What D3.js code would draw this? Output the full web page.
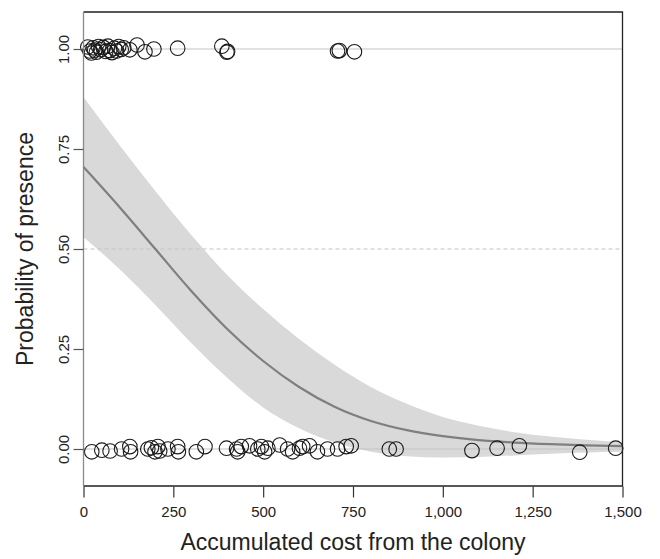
<!DOCTYPE html>
<html>
<head>
<meta charset="utf-8">
<script src="https://cdn.jsdelivr.net/npm/d3@7"></script>
<style>
  html, body { margin: 0; padding: 0; background: #fff; }
  svg { display: block; font-family: 'Liberation Sans', Arial, sans-serif; }
</style>
</head>
<body>
<div id="chart"></div>
<script>
// fitted curve and band
const gridX = [0, 100, 200, 300, 400, 500, 600, 700, 800, 900, 1000, 1100, 1200, 1300, 1400, 1500];
const fitP  = [0.705, 0.605, 0.5, 0.395, 0.3, 0.22, 0.155, 0.105, 0.07, 0.047, 0.032, 0.022, 0.016, 0.012, 0.009, 0.007];
const lowP  = [0.53, 0.45, 0.36, 0.265, 0.178, 0.104, 0.052, 0.016, -0.007, -0.018, -0.021, -0.02, -0.016, -0.012, -0.009, -0.007];
const uppP  = [0.88, 0.76, 0.645, 0.535, 0.435, 0.35, 0.275, 0.21, 0.155, 0.113, 0.08, 0.058, 0.042, 0.031, 0.023, 0.017];

// presences (jittered around 1)
const presX = [12, 18, 22, 27, 31, 36, 42, 48, 55, 62, 68, 73, 79, 86, 92, 98, 105, 112, 129, 149, 171, 196, 262, 385, 399, 401, 707, 712, 754];
const presY = [1.005, 0.995, 0.99, 1.003, 0.997, 0.992, 1.006, 0.998, 1.004, 0.994, 1.007, 0.996, 0.991, 1.002, 0.995, 1.006, 0.999, 1.003, 0.998, 1.01, 0.993, 1.0, 1.002, 1.007, 0.992, 0.994, 0.995, 0.996, 0.993];

// absences (jittered around 0)
const absX = [23, 51, 74, 106, 129, 131, 179, 189, 199, 207, 212, 235, 262, 264, 314, 338, 398, 426, 429, 439, 462, 485, 495, 504, 513, 546, 568, 582, 601, 610, 629, 651, 679, 707, 731, 745, 851, 870, 1081, 1151, 1213, 1381, 1481];
const absY = [-0.007, -0.003, -0.005, 0.0, 0.006, -0.007, 0.0, 0.003, -0.007, 0.006, -0.005, 0.0, 0.006, -0.007, -0.007, 0.006, 0.002, 0.0, -0.007, 0.006, 0.008, 0.0, 0.006, -0.007, 0.002, 0.01, 0.0, -0.007, 0.002, 0.006, 0.008, -0.007, 0.0, 0.0, 0.006, 0.008, 0.0, 0.0, -0.004, 0.002, 0.008, -0.008, 0.002];

const xTicks = [0, 250, 500, 750, 1000, 1250, 1500];
const yTicks = [0, 0.25, 0.5, 0.75, 1];

const W = 660, H = 559;
const x = d3.scaleLinear().domain([0, 1500]).range([83.5, 622.5]);
const y = d3.scaleLinear().domain([-0.0925, 1.0925]).range([486, 12]);
const FONT = "'Liberation Sans', Arial, sans-serif";

const svg = d3.select('#chart').append('svg')
  .attr('width', W).attr('height', H);

// confidence band
const band = gridX.map((v, i) => ({ x: v, lo: lowP[i], hi: uppP[i], p: fitP[i] }));
svg.append('path')
  .datum(band)
  .attr('fill', '#d9d9d9')
  .attr('d', d3.area().curve(d3.curveMonotoneX)
    .x(d => x(d.x)).y0(d => y(d.lo)).y1(d => y(d.hi)));

// reference lines
[[1, null], [0, null], [0.5, '4,3']].forEach(([v, dash]) => {
  svg.append('line')
    .attr('x1', x(0)).attr('x2', x(1500))
    .attr('y1', y(v)).attr('y2', y(v))
    .attr('stroke', '#c4c4c4').attr('stroke-width', 1.2)
    .attr('stroke-dasharray', dash);
});

// fitted line
svg.append('path')
  .datum(band)
  .attr('fill', 'none')
  .attr('stroke', '#7f7f7f')
  .attr('stroke-width', 2.2)
  .attr('d', d3.line().curve(d3.curveMonotoneX).x(d => x(d.x)).y(d => y(d.p)));

// points
const pts = presX.map((v, i) => ({ x: v, y: presY[i] }))
  .concat(absX.map((v, i) => ({ x: v, y: absY[i] })));
svg.append('g').selectAll('circle')
  .data(pts).enter()
  .append('circle')
  .attr('cx', d => x(d.x)).attr('cy', d => y(d.y))
  .attr('r', 7.3)
  .attr('fill', 'none')
  .attr('stroke', '#1a1a1a')
  .attr('stroke-width', 1.1);

// box
svg.append('path')
  .attr('d', `M${x(0)},${y.range()[1]}H${x(1500)}V${y.range()[0]}H${x(0)}`)
  .attr('fill', 'none').attr('stroke', '#222').attr('stroke-width', 1.3);
svg.append('line')
  .attr('x1', x(0)).attr('x2', x(0)).attr('y1', y.range()[1]).attr('y2', y.range()[0])
  .attr('stroke', '#8a8a8a').attr('stroke-width', 1.3);

// x axis
const xa = svg.append('g')
  .attr('transform', `translate(0,${y.range()[0] + 0.5})`)
  .call(d3.axisBottom(x).tickValues(xTicks).tickFormat(d3.format(',')).tickSize(11).tickPadding(9));
xa.select('.domain').remove();
xa.selectAll('.tick line').attr('stroke', '#333').attr('stroke-width', 1.2);
xa.selectAll('.tick text').attr('font-size', 15).attr('fill', '#222').attr('font-family', FONT);

// y axis
const ya = svg.append('g')
  .attr('transform', `translate(${x(0)},0)`)
  .call(d3.axisLeft(y).tickValues(yTicks).tickFormat(d3.format('.2f')).tickSize(10).tickPadding(0));
ya.select('.domain').remove();
ya.selectAll('.tick line').attr('stroke', '#555').attr('stroke-width', 1.2);
ya.selectAll('.tick text')
  .attr('font-size', 15).attr('fill', '#222').attr('font-family', FONT)
  .attr('x', 0).attr('dy', 0)
  .attr('text-anchor', 'middle')
  .attr('transform', 'translate(-15,0) rotate(-90)');

// axis titles
svg.append('text')
  .attr('x', (x(0) + x(1500)) / 2).attr('y', 550)
  .attr('text-anchor', 'middle')
  .attr('font-size', 23).attr('fill', '#222')
  .text('Accumulated cost from the colony');

svg.append('text')
  .attr('transform', `translate(33,${(y.range()[0] + y.range()[1]) / 2}) rotate(-90)`)
  .attr('text-anchor', 'middle')
  .attr('font-size', 23).attr('fill', '#222')
  .text('Probability of presence');
</script>
</body>
</html>
